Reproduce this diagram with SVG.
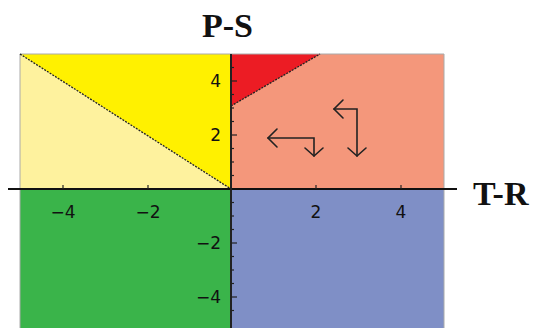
<svg xmlns="http://www.w3.org/2000/svg" width="534" height="328" viewBox="0 0 534 328">
<style>
.tick{stroke:#222;stroke-width:1.2}
.num{font-family:"DejaVu Sans","Liberation Sans",sans-serif;font-size:17px;fill:#111}
.lab{font-family:"Liberation Serif","Times New Roman",serif;font-size:34px;font-weight:bold;fill:#111}
.arr{fill:none;stroke:#222;stroke-width:1.6;stroke-linecap:round;stroke-linejoin:miter}
.bd{stroke:#222;stroke-width:1.3;stroke-dasharray:2 1.2;fill:none}
</style>
<rect width="534" height="328" fill="#fff"/>
<g id="regions">
<polygon points="20,54 231,54 231,189" fill="#FFF100"/>
<polygon points="20,54 231,189 20,189" fill="#FEF29E"/>
<rect x="231" y="54" width="213" height="135" fill="#F4977B"/>
<polygon points="231,54 320,54 231,106" fill="#EC1C24"/>
<rect x="20" y="189" width="211" height="139" fill="#3AB44A"/>
<rect x="231" y="189" width="213" height="139" fill="#7F8FC6"/>
<path d="M20,328 V54 H444 V328" fill="none" stroke="#aaa" stroke-width="1"/>
<line class="bd" x1="20" y1="54" x2="231" y2="189"/>
<line class="bd" x1="231" y1="106" x2="320" y2="54"/>
</g>
<g id="axes">
<line x1="8" y1="189" x2="457" y2="189" stroke="#111" stroke-width="2"/>
<line x1="231" y1="54" x2="231" y2="328" stroke="#222" stroke-width="2"/>
<g class="tick">
<line x1="63" y1="189" x2="63" y2="185"/><line x1="148" y1="189" x2="148" y2="185"/>
<line x1="316" y1="189" x2="316" y2="185"/><line x1="401" y1="189" x2="401" y2="185"/>
<line x1="231" y1="81" x2="237" y2="81"/><line x1="231" y1="135" x2="237" y2="135"/>
<line x1="231" y1="243" x2="237" y2="243"/><line x1="231" y1="297" x2="237" y2="297"/>
<line x1="231" y1="67.5" x2="234" y2="67.5"/><line x1="231" y1="94.5" x2="234" y2="94.5"/>
<line x1="231" y1="108" x2="234" y2="108"/><line x1="231" y1="121.5" x2="234" y2="121.5"/>
<line x1="231" y1="148.5" x2="234" y2="148.5"/><line x1="231" y1="162" x2="234" y2="162"/>
<line x1="231" y1="175.5" x2="234" y2="175.5"/><line x1="231" y1="202.5" x2="234" y2="202.5"/>
<line x1="231" y1="216" x2="234" y2="216"/><line x1="231" y1="229.5" x2="234" y2="229.5"/>
<line x1="231" y1="256.5" x2="234" y2="256.5"/><line x1="231" y1="270" x2="234" y2="270"/>
<line x1="231" y1="283.5" x2="234" y2="283.5"/><line x1="231" y1="310.5" x2="234" y2="310.5"/>
</g>
<text class="num" x="63" y="218" text-anchor="middle">−4</text>
<text class="num" x="148" y="218" text-anchor="middle">−2</text>
<text class="num" x="316" y="218" text-anchor="middle">2</text>
<text class="num" x="401" y="218" text-anchor="middle">4</text>
<text class="num" x="221" y="87" text-anchor="end">4</text>
<text class="num" x="221" y="141" text-anchor="end">2</text>
<text class="num" x="221" y="249" text-anchor="end">−2</text>
<text class="num" x="221" y="303" text-anchor="end">−4</text>
<text class="lab" x="202" y="37">P-S</text>
<text class="lab" x="473" y="205">T-R</text>
</g>
<g id="arrows">
<path class="arr" d="M268,138 H314 V156"/>
<path class="arr" d="M277,129 L268,138 L277,147"/>
<path class="arr" d="M305,148 L314,156 L323,148"/>
<path class="arr" d="M334,109 H357 V156"/>
<path class="arr" d="M343,100 L334,109 L343,118"/>
<path class="arr" d="M348,148 L357,156 L366,148"/>
</g>
</svg>
